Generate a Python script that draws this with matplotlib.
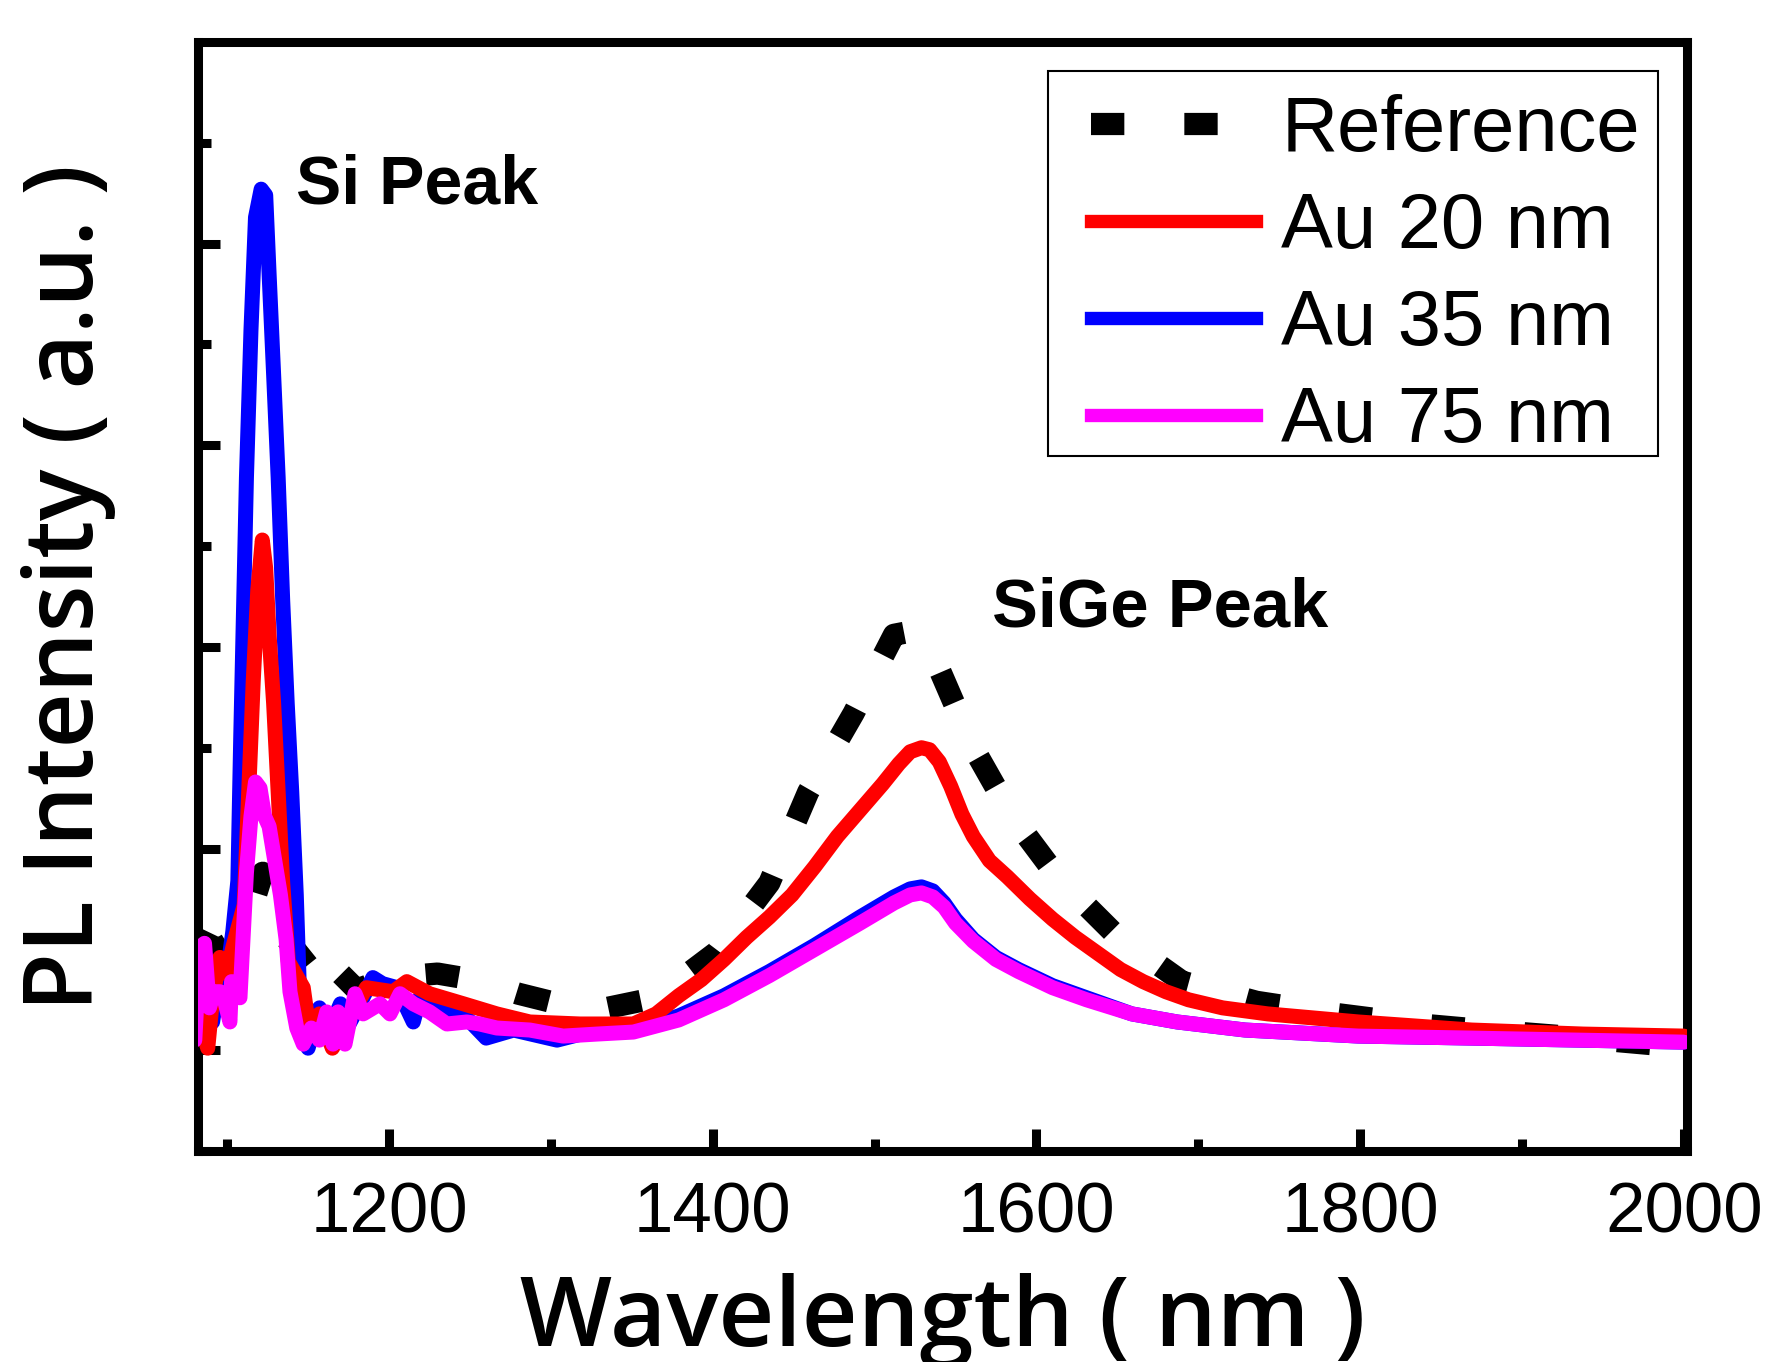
import numpy as np
import matplotlib.pyplot as plt
from matplotlib.lines import Line2D
from matplotlib.patches import Rectangle

# Reference (dashed black)
ref_wl = [1082, 1095, 1105, 1115, 1122, 1130, 1140, 1150, 1156, 1165, 1180, 1200, 1230,
          1252, 1280, 1305, 1335, 1365, 1403, 1435, 1459, 1487, 1512, 1525, 1540, 1561,
          1585, 1613, 1648, 1690, 1736, 1785, 1834, 1876, 1924, 1980, 2000]
ref_int = [0.55, 0.50, 0.55, 0.70, 0.88, 0.62, 0.52, 0.42, 0.32, 0.42, 0.30, 0.36, 0.38,
           0.35, 0.28, 0.23, 0.21, 0.26, 0.49, 0.83, 1.28, 1.67, 2.06, 2.08, 1.89, 1.50,
           1.16, 0.86, 0.58, 0.34, 0.24, 0.18, 0.13, 0.10, 0.07, 0.03, 0.02]

# Au 20 nm (red)
au20_wl = [1080, 1088, 1091, 1095.5, 1099.6, 1103.5, 1110.5, 1113.3, 1116.1, 1118.9, 1121.7,
           1123.8, 1125.9, 1128.7, 1131.5, 1134.3, 1137.8, 1147, 1151, 1157, 1165, 1174,
           1186, 1202.5, 1211, 1225, 1246, 1266.6, 1287, 1318, 1351, 1365, 1379, 1393,
           1407, 1421, 1435, 1449, 1463, 1477, 1491, 1505, 1515, 1522, 1529, 1534, 1540,
           1547, 1554, 1561, 1571, 1582, 1596, 1610, 1624, 1638, 1652, 1666, 1680, 1694,
           1715, 1743, 1799, 1869, 1938, 2000]
au20_int = [0.21, 0.01, 0.26, 0.46, 0.38, 0.51, 0.72, 1.28, 1.83, 2.28, 2.53,
            2.39, 2.06, 1.72, 1.28, 0.83, 0.44, 0.31, 0.08, 0.18, 0.01, 0.14,
            0.31, 0.29, 0.34, 0.28, 0.23, 0.18, 0.14, 0.13, 0.13, 0.18, 0.27, 0.35,
            0.45, 0.56, 0.66, 0.77, 0.91, 1.06, 1.19, 1.32, 1.42, 1.48, 1.50, 1.49, 1.43,
            1.31, 1.17, 1.06, 0.94, 0.86, 0.75, 0.65, 0.56, 0.48, 0.40, 0.34, 0.29, 0.25,
            0.21, 0.18, 0.14, 0.10, 0.08, 0.07]

# Au 35 nm (blue)
au35_wl = [1080, 1085, 1091, 1095.5, 1099.6, 1103.5, 1106.6, 1108.4, 1111.9, 1114.7, 1117.5,
           1121, 1123.8, 1125.9, 1128.7, 1131.5, 1134.3, 1137.1, 1139.9, 1142.7, 1145,
           1150, 1157, 1162, 1170, 1174, 1182, 1190, 1196, 1205, 1215, 1219, 1235.7,
           1248, 1260, 1277, 1303.8, 1328.4, 1351, 1379, 1407, 1435, 1463, 1491, 1512,
           1522, 1529, 1536, 1543, 1550, 1561, 1575, 1589, 1610, 1631, 1659, 1687, 1729,
           1799, 1869, 2000]
au35_int = [0.14, 0.43, 0.14, 0.38, 0.36, 0.59, 0.84, 1.56, 2.84, 3.57, 4.13,
            4.27, 4.24, 3.85, 3.35, 2.84, 2.23, 1.72, 1.28, 0.77, 0.21,
            0.01, 0.21, 0.08, 0.23, 0.11, 0.23, 0.36, 0.33, 0.31, 0.14, 0.26, 0.18,
            0.16, 0.06, 0.10, 0.05, 0.10, 0.10, 0.17, 0.27, 0.39, 0.52, 0.66, 0.76,
            0.80, 0.81, 0.79, 0.73, 0.65, 0.55, 0.46, 0.40, 0.32, 0.26, 0.18, 0.14, 0.10,
            0.07, 0.06, 0.04]

# Au 75 nm (magenta)
au75_wl = [1080, 1083, 1086, 1089, 1092, 1095.5, 1098.6, 1101.7, 1102.7, 1107.9, 1111.9,
           1114.7, 1117.5, 1120.3, 1123.1, 1125.9, 1129.4, 1132.9, 1136.4, 1138.8, 1143,
           1147, 1152, 1157, 1161.5, 1165.4, 1168.5, 1172.8, 1179, 1184, 1194.4, 1200.6,
           1206.8, 1215, 1225, 1235.7, 1248, 1256, 1266.6, 1287, 1307.6, 1328.4, 1351,
           1379, 1407, 1435, 1463, 1491, 1512, 1522, 1529, 1536, 1543, 1550, 1561, 1575,
           1589, 1610, 1631, 1659, 1687, 1729, 1799, 1869, 2000]
au75_int = [0.05, 0.51, 0.53, 0.21, 0.29, 0.29, 0.24, 0.14, 0.34, 0.26, 0.88,
            1.16, 1.33, 1.30, 1.16, 1.11, 0.94, 0.77, 0.55, 0.29, 0.11,
            0.03, 0.11, 0.05, 0.19, 0.03, 0.19, 0.03, 0.28, 0.18, 0.23, 0.18,
            0.28, 0.23, 0.19, 0.13, 0.14, 0.13, 0.11, 0.10, 0.07, 0.08, 0.09,
            0.15, 0.25, 0.37, 0.50, 0.63, 0.73, 0.77, 0.78, 0.76, 0.71, 0.63, 0.54, 0.45,
            0.39, 0.31, 0.25, 0.18, 0.14, 0.10, 0.07, 0.06, 0.04]

x_ticks = [1200, 1400, 1600, 1800, 2000]
labels = ['Reference', 'Au 20 nm', 'Au 35 nm', 'Au 75 nm']
colors = ['black', '#ff0000', '#0000ff', '#ff00ff']

fig = plt.figure(figsize=(17.73, 13.62), dpi=100)
ax = fig.add_axes([0.1117, 0.1549, 0.9515 - 0.1117, 0.9692 - 0.1549])

ref_style = dict(lw=16, linestyle=(0, (1.5, 2.7)), dash_capstyle='butt')
line_kw = dict(lw=10.8, solid_capstyle='round', solid_joinstyle='round')
ax.plot(ref_wl, ref_int, color=colors[0], **ref_style)
ax.plot(au35_wl, au35_int, color=colors[2], **line_kw, zorder=3)
ax.plot(au20_wl, au20_int, color=colors[1], **line_kw, zorder=4)
ax.plot(au75_wl, au75_int, color=colors[3], **line_kw, zorder=5)

ax.set_xlim(1082, 2002)
ax.set_ylim(-0.5, 5.0)
ax.set_xticks(x_ticks)
ax.set_xticks(np.arange(1100, 2000, 200), minor=True)
ax.set_yticks(np.arange(0, 5, 1))
ax.set_yticks(np.arange(-0.5, 5, 1), minor=True)
ax.set_yticklabels([])

for sp in ax.spines.values():
    sp.set_linewidth(6.5)
ax.tick_params(which='both', direction='in', top=False, right=False, width=6.5)
ax.tick_params(which='major', length=16)
ax.tick_params(which='minor', length=9)
ax.tick_params(axis='x', pad=22, labelsize=51)
for lab in ax.get_xticklabels():
    lab.set_fontfamily('Liberation Sans')

ax.set_xlabel('Wavelength ( nm )', fontsize=70, family='Open Sans', fontweight='semibold')
ax.set_ylabel('PL Intensity ( a.u. )', fontsize=69, family='Open Sans', fontweight='semibold')
ax.xaxis.set_label_coords(0.5, -0.11)
ax.yaxis.set_label_coords(-0.055, 0.508)

ax.text(1142.7, 4.20, 'Si Peak', fontsize=49, fontweight='bold', family='Liberation Sans',
        va='baseline')
ax.text(1572.7, 2.10, 'SiGe Peak', fontsize=49.5, fontweight='bold', family='Liberation Sans',
        va='baseline')

# legend: frame drawn separately so the side padding can differ from the top/bottom
handles = [Line2D([], [], color=colors[0], **ref_style)]
handles += [Line2D([], [], color=c, lw=9.6) for c in colors[1:]]
leg = ax.legend(handles, labels, loc='upper left', bbox_to_anchor=(0.600, 0.953),
                prop={'family': 'Liberation Sans', 'size': 56}, frameon=False,
                handlelength=2.12, handletextpad=0.32, labelspacing=0.31,
                borderpad=0, borderaxespad=0)
ax.add_patch(Rectangle((0.571, 0.6267), 0.9805 - 0.571, 0.974 - 0.6267,
                       transform=ax.transAxes, fill=False, edgecolor='black',
                       lw=1.5, zorder=6))

fig.savefig('out.png', dpi=100)
